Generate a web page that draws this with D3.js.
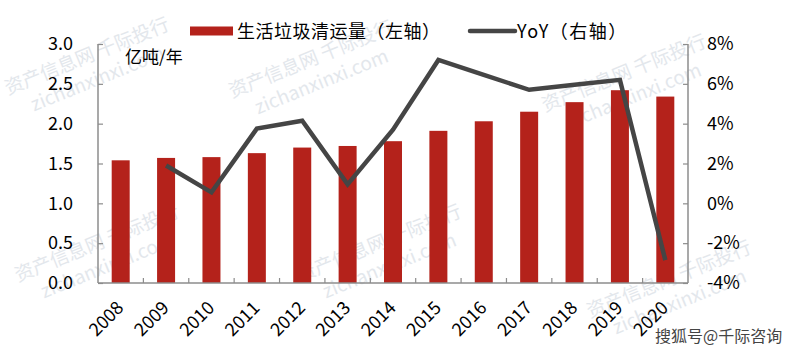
<!DOCTYPE html>
<html>
<head>
    <meta charset="UTF-8">
    <title>生活垃圾清运量</title>
    <style>
        body { margin: 0; background: #fff; }
        text { font-family: "Noto Sans CJK SC", "Noto Sans", sans-serif; }
    </style>
</head>
<body>
    <div id="app"></div>

    <script src="https://d3js.org/d3.v7.min.js"></script>
    <script>
        let years = ['2008', '2009', '2010', '2011', '2012', '2013', '2014',
            '2015', '2016', '2017', '2018', '2019', '2020']
        let volume = [1.54, 1.57, 1.58, 1.63, 1.70, 1.72, 1.78, 1.91, 2.03, 2.15, 2.27, 2.42, 2.34]
        let yoy = [null, 1.9, 0.55, 3.75, 4.15, 0.95, 3.7, 7.2, 6.45, 5.7, 5.95, 6.2, -2.85]
        let leftTicks = [0, 0.5, 1.0, 1.5, 2.0, 2.5, 3.0]
        let rightTicks = [-4, -2, 0, 2, 4, 6, 8]

        let W = 800
        let H = 353
        let plotL = 98, plotR = 688, plotT = 44, plotB = 283

        let svg = d3.select('#app').append('svg')
            .attr('width', W)
            .attr('height', H)

        // faint watermarks
        let marks = [[8, 95], [232, 98], [18, 282], [300, 282], [545, 112], [590, 318]]
        marks.forEach(m => {
            let g = svg.append('g')
                .attr('transform', 'translate(' + m[0] + ',' + m[1] + ') rotate(-22)')
                .attr('fill', '#e3e7ec')
            g.append('text').attr('font-size', 19).text('资产信息网 千际投行')
            g.append('text').attr('x', 18).attr('y', 25).attr('font-size', 19)
                .attr('font-family', 'Noto Sans').text('zichanxinxi.com')
        })

        let x = d3.scaleBand().domain(years).range([plotL, plotR])
        let yL = d3.scaleLinear().domain([0, 3]).range([plotB, plotT])
        let yR = d3.scaleLinear().domain([-4, 8]).range([plotB, plotT])

        let barW = 18
        svg.append('g').selectAll('rect')
            .data(volume).enter()
            .append('rect')
            .attr('x', (d, i) => x(years[i]) + x.bandwidth() / 2 - barW / 2)
            .attr('y', d => yL(d))
            .attr('width', barW)
            .attr('height', d => plotB - yL(d))
            .attr('fill', '#b4221b')

        let axisColor = '#8c8c8c'

        let gl = svg.append('g').attr('transform', 'translate(' + plotL + ',0)')
            .call(d3.axisLeft(yL).tickValues(leftTicks).tickSize(-5).tickPadding(25)
                .tickFormat(d3.format('.1f')))
        let gr = svg.append('g').attr('transform', 'translate(' + plotR + ',0)')
            .call(d3.axisRight(yR).tickValues(rightTicks).tickSize(-5).tickPadding(19)
                .tickFormat(d => d + '%'))
        let gx = svg.append('g').attr('transform', 'translate(0,' + plotB + ')')
            .call(d3.axisBottom(x).tickSize(0).tickFormat(''))

        ;[gl, gr, gx].forEach(g => {
            g.select('.domain').attr('stroke', axisColor).attr('stroke-width', 1.5)
            g.selectAll('line').attr('stroke', axisColor).attr('stroke-width', 1.2)
            g.selectAll('text').attr('font-size', 18).attr('fill', '#000')
                .attr('font-family', 'Noto Sans')
        })
        gl.select('.domain').attr('d', 'M0,' + plotT + 'V' + plotB)
        gr.select('.domain').attr('d', 'M0,' + plotT + 'V' + plotB)
        gx.select('.domain').attr('d', 'M' + plotL + ',0H' + plotR)

        // category boundary ticks
        gx.selectAll('.bt')
            .data(years.slice(1)).enter()
            .append('line')
            .attr('x1', d => x(d)).attr('x2', d => x(d))
            .attr('y1', 0).attr('y2', -5)
            .attr('stroke', axisColor).attr('stroke-width', 1.2)

        // rotated year labels
        svg.append('g').selectAll('text')
            .data(years).enter()
            .append('text')
            .attr('transform', d => 'translate(' + (x(d) + x.bandwidth() / 2 + 4) + ',' + 309 + ') rotate(-45)')
            .attr('text-anchor', 'end')
            .attr('font-size', 18)
            .attr('font-family', 'Noto Sans')
            .text(d => d)

        let line = d3.line()
            .defined(d => d !== null)
            .x((d, i) => x(years[i]) + x.bandwidth() / 2)
            .y(d => yR(d))

        svg.append('path')
            .datum(yoy)
            .attr('d', line)
            .attr('fill', 'none')
            .attr('stroke', '#454545')
            .attr('stroke-width', 4.5)
            .attr('stroke-linejoin', 'miter')

        // unit
        svg.append('text').attr('x', 125).attr('y', 63)
            .attr('font-size', 17).text('亿吨/年')

        // legend
        svg.append('rect').attr('x', 190).attr('y', 26.5).attr('width', 43).attr('height', 9)
            .attr('fill', '#b4221b')
        svg.append('text').attr('x', 237).attr('y', 38).attr('font-size', 18)
            .attr('letter-spacing', 0.5)
            .text('生活垃圾清运量（左轴）')
        svg.append('line').attr('x1', 470).attr('x2', 515).attr('y1', 31).attr('y2', 31)
            .attr('stroke', '#454545').attr('stroke-width', 4.5).attr('stroke-linecap', 'round')
        svg.append('text').attr('x', 517).attr('y', 38).attr('font-size', 18)
            .attr('letter-spacing', 1.5)
            .text('YoY（右轴）')

        // source watermark
        svg.append('text').attr('x', 655).attr('y', 342).attr('font-size', 16)
            .attr('fill', '#444').attr('stroke', '#fff').attr('stroke-width', 2.5)
            .attr('paint-order', 'stroke')
            .text('搜狐号@千际咨询')
    </script>
</body>
</html>
